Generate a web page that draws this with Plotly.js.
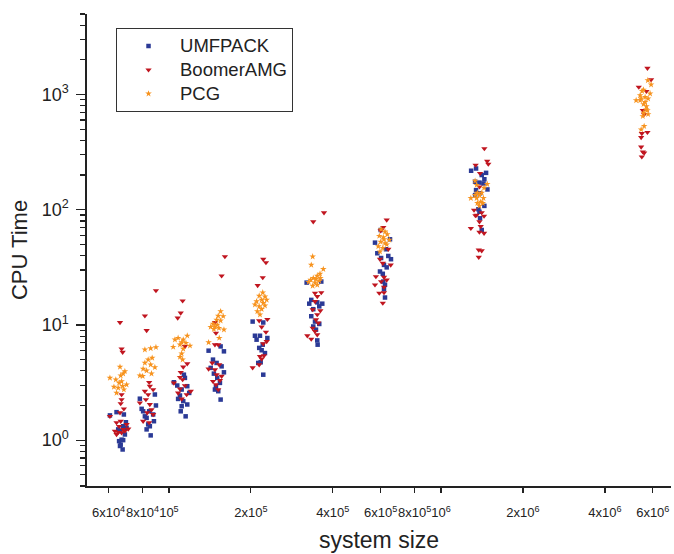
<!DOCTYPE html>
<html>
<head>
<meta charset="utf-8">
<script src="https://cdn.plot.ly/plotly-3.0.1.min.js"></script>
<style>html,body{margin:0;padding:0;background:#fff;}#chart{width:674px;height:554px;}</style>
</head>
<body>
<div id="chart"></div>
<script>
// ---- Data ----
const umfpackSize = [
  60700,64200,68300,69500,67900,66100,68900,67000,65600,67900,66500,67600,66100,69900,65100,
  88800,78200,89600,80400,84600,87500,82800,88100,83900,85100,82800,85700,81600,79400,
  114500,104300,116800,107300,111400,116800,109800,112900,111400,110500,115200,108100,118700,113500,
  154900,139900,159300,145200,149700,156200,146300,150500,154000,148900,147600,151800,154900,142400,159300,
  203100,222200,216100,210000,230000,221200,214700,219200,225400,217400,213000,222200,207100,
  320700,363000,333500,366100,327900,350900,356900,339200,333500,344200,356900,339200,347100,350900,352000,
  571900,600100,649300,627700,583200,640000,602200,654800,617100,631400,596600,613500,622400,617100,622400,610900,
  1290000,1345000,1464000,1411000,1443000,1334000,1384000,1432000,1481000,1345000,1391000,1334000,1443000,1372000,1391000,1411000,1384000
];
const umfpackTime = [
  1.64,1.75,1.67,1.43,1.32,1.2,1.12,1.01,0.98,1.0,0.914,0.83,0.89,1.28,1.24,
  2.49,2.29,2.0,1.78,1.78,1.67,1.56,1.46,1.37,1.32,1.24,1.1,1.61,1.87,
  3.47,3.18,2.94,2.98,2.75,2.04,2.44,2.18,1.97,1.78,1.61,2.28,2.57,3.7,
  6.51,5.98,5.9,5.0,4.68,4.37,3.78,3.47,3.14,2.9,2.75,2.66,2.25,4.24,3.88,
  10.7,10.5,8.06,7.45,7.7,6.74,6.32,6.03,5.7,4.74,4.68,3.7,8.06,
  23.3,23.8,16.5,15.3,15.3,15.7,14.5,13.7,11.9,10.7,10.2,9.7,9.1,7.34,6.74,
  51.8,66.7,55.4,45.4,41.9,39.7,38.1,37.2,33.2,31.6,29.1,23.8,22.3,20.4,17.3,27.8,
  218,228,209,200,184,175,172,169,150,148,139,134,108,101,84.3,66.7,96
];
const boomerSize = [
  66100,67000,67600,60700,67000,67000,66500,68300,66100,64200,66500,63300,65100,67000,68900,70900,64200,67900,65600,69900,
  81600,82800,89600,84600,85100,81600,83900,87500,78200,85100,86300,83200,87500,80400,84600,82300,
  112300,110500,107700,116800,112900,110500,109800,112300,104300,114500,120300,109800,116200,111400,108100,114500,
  160600,156200,147600,148900,147600,151800,139900,147600,153100,149700,156200,145200,154000,148900,151800,144300,
  222200,227300,221200,211900,219200,214700,230000,227300,222200,216100,223500,219200,214700,203100,228700,
  371500,339200,344200,363000,350900,344200,337500,360100,350900,347100,353900,337500,344200,322500,333500,350900,
  631400,613500,600100,640000,596600,610900,653100,576300,617100,631400,602200,571900,617100,593100,617100,610900,
  1443000,1478000,1492000,1340000,1391000,1384000,1322000,1352000,1411000,1439000,1384000,1287000,1399000,1384000,1439000,1376000,1411000,1376000,1338000,
  5734000,5915000,5329000,5687000,5515000,5577000,5467000,5734000,5438000,5438000,5515000,5577000,5468000
];
const boomerTime = [
  10.5,6.2,5.8,1.61,2.49,2.25,2.08,1.87,1.73,1.42,1.46,1.2,1.17,1.16,1.2,1.25,1.12,1.24,1.32,1.37,
  12.0,8.96,19.9,3.18,2.94,2.66,2.49,2.75,2.11,2.04,1.84,1.73,1.67,1.46,1.42,2.25,
  16.2,12.7,11.5,4.61,4.32,3.88,3.51,3.36,3.14,2.98,2.66,2.79,2.49,2.28,2.57,6.51,
  39.2,26.7,10.5,8.51,6.74,6.74,4.15,4.09,4.52,3.7,3.59,3.24,3.3,3.03,2.75,4.68,
  37.2,34.8,25.8,22.0,9.6,10.9,11.2,8.68,6.87,5.33,5.41,5.07,4.52,4.26,7.19,
  94.2,78.7,18.9,19.1,17.7,16.0,13.6,13.3,12.3,11.1,10.4,9.4,8.8,8.06,7.55,8.22,
  81.5,70.4,65.8,45.4,37.2,34.4,33.2,26.3,26.0,24.6,23.8,22.3,21.3,18.9,19.1,15.5,
  340,264,249,244,207,158,99.4,89.9,94.5,88.2,78.7,69.0,71.7,64.0,62.5,44.8,44.1,38.7,89,
  1695,1346,1162,1066,730,674,459,470,424,351,318,311,288
];
const pcgSize = [
  66100,68900,66500,60700,63800,67000,69900,62800,67600,65100,68300,64200,65600,67900,
  85700,89600,81600,86800,83900,81600,85700,80400,82800,78200,80100,86300,88800,
  116800,108100,105200,112900,111400,115500,109800,119500,103700,112900,111400,109800,112300,
  154900,158300,151800,149700,154900,145200,150500,147600,142400,152700,159300,139900,153100,146300,
  221200,214700,225400,219200,210000,222200,228700,214700,219200,211300,216100,207100,225400,
  337500,333500,369300,359100,350900,339200,347100,331900,356900,344200,350900,337500,360100,326300,
  602200,622400,634600,593100,613500,645400,600100,622400,588100,610900,631400,596600,617100,
  1334000,1478000,1352000,1439000,1411000,1360000,1384000,1287000,1352000,1432000,1399000,1360000,1424000,1384000,1334000,
  5754000,5915000,5484000,5548000,5866000,5392000,5623000,5438000,5767000,5212000,5392000,5623000,5548000,5687000,5671000,5734000,5548000,5767000,5515000,5577000,5438000
];
const pcgTime = [
  4.32,3.96,3.63,3.47,3.35,3.24,3.03,2.9,2.94,2.84,2.75,2.57,3.14,3.78,
  6.26,6.4,6.1,5.17,5.0,4.68,4.52,4.15,4.01,3.63,3.59,3.78,4.29,
  8.06,7.7,7.45,7.45,7.05,6.97,6.74,6.6,6.44,6.2,5.63,5.27,5.0,
  13.1,11.9,12.0,11.1,10.9,10.2,10.0,9.7,9.6,9.4,9.1,7.05,7.7,9.2,
  19.1,17.9,17.6,16.5,16.0,15.5,16.5,14.5,13.7,13.1,12.3,15.0,14.7,
  39.2,33.2,30.5,27.8,26.7,25.5,25.0,24.6,24.2,23.3,22.3,21.8,25.5,23.6,
  67.6,64.5,61.2,59.2,57.5,54.7,52.6,51.2,48.1,46.5,49.9,43.3,55.4,
  178,167,164,155,140,140,134,126,126,126,117,114,114,108,134,
  1327,1219,1072,1100,1019,984,951,921,921,891,891,861,823,790,740,730,692,674,648,531,497
];
const seriesNames = ['UMFPACK', 'BoomerAMG', 'PCG'];

const xTickVals = [6e4, 8e4, 1e5, 2e5, 4e5, 6e5, 8e5, 1e6, 2e6, 4e6, 6e6];
const xTickText = ['6x10<sup>4</sup>','8x10<sup>4</sup>','10<sup>5</sup>','2x10<sup>5</sup>','4x10<sup>5</sup>','6x10<sup>5</sup>','8x10<sup>5</sup>','10<sup>6</sup>','2x10<sup>6</sup>','4x10<sup>6</sup>','6x10<sup>6</sup>'];
const xDecadeVals = [1e5, 1e6];
const yTickVals = [1, 10, 100, 1000];
const yTickText = ['10<sup>0</sup>','10<sup>1</sup>','10<sup>2</sup>','10<sup>3</sup>'];
const yMinorVals = [0.4,0.5,0.6,0.7,0.8,0.9,2,3,4,5,6,7,8,9,20,30,40,50,60,70,80,90,200,300,400,500,600,700,800,900,2000,3000,4000,5000];

// ---- Chart ----
const FONT = 'Arial, "Liberation Sans", Helvetica, sans-serif';
const legendName = n => '<span style="font-size:18.5px">' + n + '</span>';
const traces = [
  {x: umfpackSize, y: umfpackTime, name: legendName(seriesNames[0]), type: 'scatter', mode: 'markers',
   marker: {symbol: 'square', size: 4.5, color: '#2b3a96'}},
  {x: boomerSize, y: boomerTime, name: legendName(seriesNames[1]), type: 'scatter', mode: 'markers',
   marker: {symbol: 'triangle-down', size: 5.5, color: '#c0151f'}},
  {x: pcgSize, y: pcgTime, name: legendName(seriesNames[2]), type: 'scatter', mode: 'markers',
   marker: {symbol: 'star', size: 5, color: '#f7931e'}}
];

const xr = [Math.log10(5e4), Math.log10(7e6)];
const layout = {
  width: 674, height: 554,
  margin: {l: 87, r: 3, t: 14, b: 68},
  paper_bgcolor: '#fff', plot_bgcolor: '#fff',
  font: {family: FONT, color: '#222'},
  showlegend: true,
  legend: {x: 0.0497, y: 0.970, xanchor: 'left', yanchor: 'top',
           bgcolor: 'rgba(255,255,255,0)', bordercolor: '#333', borderwidth: 1,
           font: {family: FONT, size: 16, color: '#222'}, itemwidth: 53},
  xaxis: {type: 'log', range: xr, autorange: false,
          tickmode: 'array', tickvals: xTickVals, ticktext: xTickText, tickangle: 0,
          ticks: 'outside', ticklen: 5, tickwidth: 1.3, tickcolor: '#222',
          showline: true, linecolor: '#222', linewidth: 1.6, showgrid: false, zeroline: false,
          tickfont: {family: FONT, size: 13, color: '#222'}, ticklabelstandoff: 9,
          title: {text: 'system size', font: {family: FONT, size: 23, color: '#222'}, standoff: 12},
          automargin: false},
  xaxis2: {type: 'log', range: xr, autorange: false, overlaying: 'x', anchor: 'y', side: 'bottom',
           tickmode: 'array', tickvals: xDecadeVals, ticks: 'outside', ticklen: 10, tickwidth: 1.3,
           tickcolor: '#222', showticklabels: false, showline: false, showgrid: false, zeroline: false},
  yaxis: {type: 'log', range: [Math.log10(0.4), Math.log10(5000)], autorange: false,
          tickmode: 'array', tickvals: yTickVals, ticktext: yTickText,
          ticks: 'outside', ticklen: 9, tickwidth: 1.3, tickcolor: '#222',
          minor: {tickmode: 'array', tickvals: yMinorVals, ticks: 'outside', ticklen: 5, tickwidth: 1.2, tickcolor: '#222', showgrid: false},
          showline: true, linecolor: '#222', linewidth: 1.6, showgrid: false, zeroline: false,
          tickfont: {family: FONT, size: 18, color: '#222'}, ticklabelstandoff: 4,
          title: {text: 'CPU Time', font: {family: FONT, size: 22, color: '#222'}, standoff: 8},
          automargin: false}
};

Plotly.newPlot('chart', traces, layout, {displayModeBar: false, staticPlot: true});
</script>
</body>
</html>
